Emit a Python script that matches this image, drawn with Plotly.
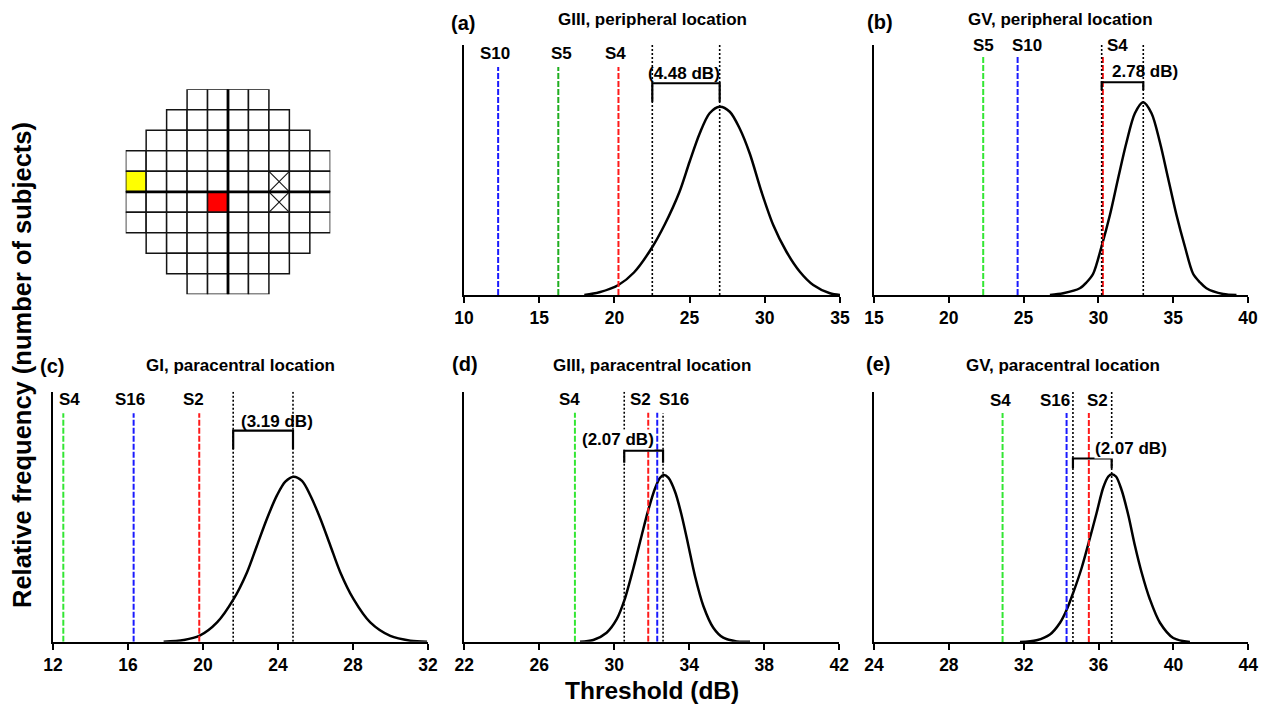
import plotly.graph_objects as go

W, H = 1262, 705
FONT = "Arial, Liberation Sans, sans-serif"

# ---------------------------------------------------------------- data
panel_letters = ["(a)", "(b)", "(c)", "(d)", "(e)"]
panel_titles = ["GIII, peripheral location", "GV, peripheral location",
                "GI, paracentral location", "GIII, paracentral location",
                "GV, paracentral location"]
x_ranges = [[10, 35], [15, 40], [12, 32], [22, 42], [24, 44]]
x_ticks = [[10, 15, 20, 25, 30, 35], [15, 20, 25, 30, 35, 40],
           [12, 16, 20, 24, 28, 32], [22, 26, 30, 34, 38, 42],
           [24, 28, 32, 36, 40, 44]]

# distribution curves (threshold in dB, relative frequency)
curve_a_x = [18.0, 19.0, 20.27, 21.3, 22.44, 23.33, 24.33, 25.0, 25.67, 26.33, 27.0, 27.67,
             28.33, 29.0, 29.78, 30.56, 31.44, 32.33, 33.22, 34.33, 35.0]
curve_a_y = [0, 0.011, 0.040, 0.090, 0.184, 0.280, 0.413, 0.533, 0.646, 0.727, 0.753, 0.733,
             0.666, 0.566, 0.413, 0.280, 0.173, 0.093, 0.040, 0.007, 0]
curve_b_x = [26.76, 27.65, 28.76, 29.2, 29.65, 30.21, 30.77, 31.32, 31.88, 32.44, 32.99,
             33.55, 34.11, 34.66, 35.22, 35.78, 36.33, 36.8, 37.22, 38.34, 39.23]
curve_b_y = [0, 0.007, 0.027, 0.050, 0.085, 0.194, 0.320, 0.467, 0.611, 0.727, 0.771,
             0.727, 0.611, 0.467, 0.320, 0.194, 0.085, 0.050, 0.027, 0.004, 0]
curve_c_x = [17.9, 18.97, 19.80, 20.75, 21.63, 22.35, 22.88, 23.41, 23.95, 24.39, 24.83,
             25.28, 25.72, 26.26, 26.79, 27.32, 28.03, 28.92, 29.99, 31.06, 31.95]
curve_c_y = [0, 0.007, 0.023, 0.077, 0.170, 0.278, 0.385, 0.492, 0.586, 0.640, 0.660,
             0.643, 0.586, 0.492, 0.385, 0.278, 0.170, 0.077, 0.023, 0.004, 0]
curve_d_x = [28.17, 28.88, 29.59, 30.13, 30.53, 31.01, 31.46, 31.81, 32.17, 32.44, 32.65,
             32.88, 33.24, 33.59, 33.95, 34.30, 34.75, 35.28, 35.81, 36.53, 37.24]
curve_d_y = [0, 0.007, 0.036, 0.090, 0.164, 0.292, 0.425, 0.526, 0.613, 0.656, 0.667,
             0.656, 0.600, 0.506, 0.385, 0.264, 0.143, 0.056, 0.016, 0.001, 0]
curve_e_x = [31.80, 32.69, 33.40, 33.94, 34.29, 34.61, 35.09, 35.48, 35.89, 36.25, 36.52,
             36.70, 36.93, 37.23, 37.59, 37.94, 38.30, 38.74, 39.28, 39.99, 40.88]
curve_e_y = [0, 0.007, 0.030, 0.077, 0.128, 0.190, 0.295, 0.400, 0.515, 0.618, 0.662,
             0.671, 0.662, 0.608, 0.507, 0.386, 0.278, 0.171, 0.077, 0.016, 0]
curves_x = [curve_a_x, curve_b_x, curve_c_x, curve_d_x, curve_e_x]
curves_y = [curve_a_y, curve_b_y, curve_c_y, curve_d_y, curve_e_y]

# individual subjects' thresholds (dB)
subj_a = ["S10", "S5", "S4"]
subj_a_x = [12.27, 16.27, 20.27]
subj_b = ["S5", "S10", "S4"]
subj_b_x = [22.3, 24.6, 30.3]
subj_c = ["S4", "S16", "S2"]
subj_c_x = [12.55, 16.3, 19.8]
subj_d = ["S4", "S2", "S16"]
subj_d_x = [27.9, 31.81, 32.29]
subj_e = ["S4", "S16", "S2"]
subj_e_x = [30.87, 34.29, 35.48]
subj_names = [subj_a, subj_b, subj_c, subj_d, subj_e]
subj_xs = [subj_a_x, subj_b_x, subj_c_x, subj_d_x, subj_e_x]

# mean threshold and distance to the lower limit (dB)
mean_thr = [27.0, 33.0, 24.8, 32.6, 36.7]
delta_db = [4.48, 2.78, 3.19, 2.07, 2.07]
delta_text = ["(4.48 dB)", "2.78 dB)", "(3.19 dB)", "(2.07 dB)", "(2.07 dB)"]

# visual field grid (30-2): first column and length of each row
grid_row_start = [3, 2, 1, 0, 0, 0, 0, 1, 2, 3]
grid_row_len = [4, 6, 8, 10, 10, 10, 10, 8, 6, 4]
grid_peripheral = (4, 0)   # (row, col) yellow
grid_paracentral = (5, 4)  # red
grid_blind_spot = [(4, 7), (5, 7)]

# ---------------------------------------------------------------- styles
BLUE, RED = "#1a1aff", "#ff1a1a"
GREEN_DARK, GREEN_LIGHT = "#1faf1f", "#33e633"
subj_colors = [[BLUE, GREEN_DARK, RED], [GREEN_LIGHT, BLUE, RED],
               [GREEN_LIGHT, BLUE, RED], [GREEN_LIGHT, RED, BLUE],
               [GREEN_LIGHT, BLUE, RED]]
label_xshift = [[-3, 3, -3], [0, 9, 15], [6, -4, -6], [-5, -8, 17], [-2, -12, 9]]
label_y = [0.967, 0.996, 0.967, 0.967, 0.967]
dash_top = [0.912, 0.953, 0.914, 0.916, 0.916]
dot_top_low = [1.0, 1.0, 1.0, 1.0, 1.0]
dot_top_mean = [1.0, 1.0, 1.0, 0.914, 1.0]
bracket_y = [0.847, 0.851, 0.844, 0.764, 0.734]
bracket_end = [0.773, 0.82, 0.77, 0.716, 0.695]
btext_xshift = [-2, 23, 14, -26, 39]
btext_y = [0.887, 0.893, 0.88, 0.807, 0.775]
btext_bg = [None, None, None, "white", "white"]

panel_x_px = [(464, 840), (874, 1248), (53, 428), (464.3, 839.3), (874, 1248.3)]
panel_y_px = [(45, 295), (45, 295), (391.7, 641.7), (391.7, 641.7), (392, 642)]
title_pos = [(652, 19), (1060, 19), (240, 365), (652, 365), (1063, 365)]
letter_pos = [(463, 23), (880, 22), (52, 366), (465, 364), (878, 364)]


def fx(p):
    return p / W


def fy(p):
    return 1 - p / H


def text_ann(**kw):
    base = dict(showarrow=False, xanchor="center", yanchor="middle")
    base.update(kw)
    return base


fig = go.Figure()
shapes = []
annotations = []
layout_axes = {}

for i in range(5):
    n = i + 1
    xa = "x" if n == 1 else f"x{n}"
    ya = "y" if n == 1 else f"y{n}"
    xkey = "xaxis" if n == 1 else f"xaxis{n}"
    ykey = "yaxis" if n == 1 else f"yaxis{n}"
    layout_axes[xkey] = dict(
        domain=[fx(panel_x_px[i][0]), fx(panel_x_px[i][1])], range=x_ranges[i],
        tickvals=x_ticks[i], showline=True, linewidth=2, linecolor="black",
        ticks="outside", ticklen=6, tickwidth=2, tickcolor="black",
        tickfont=dict(family=FONT, size=17.5, color="black", weight="bold"),
        showgrid=False, zeroline=False, anchor=ya, fixedrange=True, automargin=False)
    layout_axes[ykey] = dict(
        domain=[fy(panel_y_px[i][1]), fy(panel_y_px[i][0])], range=[0, 1],
        showline=True, linewidth=2, linecolor="black", showticklabels=False,
        ticks="", showgrid=False, zeroline=False, anchor=xa, fixedrange=True,
        automargin=False)

    fig.add_trace(go.Scatter(x=curves_x[i], y=curves_y[i], mode="lines",
                             line=dict(color="black", width=2.5, shape="spline", smoothing=0.85),
                             xaxis=xa, yaxis=ya, showlegend=False, hoverinfo="skip"))

    # subjects' dashed lines and labels
    for j, name in enumerate(subj_names[i]):
        sx = subj_xs[i][j]
        shapes.append(dict(type="line", xref=xa, yref=ya, x0=sx, x1=sx, y0=0, y1=dash_top[i],
                           line=dict(color=subj_colors[i][j], width=2, dash="6px,2px")))
        annotations.append(text_ann(x=sx, y=label_y[i], xref=xa, yref=ya,
                                    text=f"<b>{name}</b>", xshift=label_xshift[i][j],
                                    font=dict(family=FONT, size=17, color="black")))

    # dotted lines at the mean and the lower limit
    low = mean_thr[i] - delta_db[i]
    shapes.append(dict(type="line", xref=xa, yref=ya, x0=low, x1=low, y0=0, y1=dot_top_low[i],
                       line=dict(color="black", width=1.6, dash="2px,2px")))
    shapes.append(dict(type="line", xref=xa, yref=ya, x0=mean_thr[i], x1=mean_thr[i], y0=0,
                       y1=dot_top_mean[i], line=dict(color="black", width=1.6, dash="2px,2px")))
    # bracket
    shapes.append(dict(type="path", xref=xa, yref=ya,
                       path=(f"M {low} {bracket_end[i]} L {low} {bracket_y[i]} "
                             f"L {mean_thr[i]} {bracket_y[i]} L {mean_thr[i]} {bracket_end[i]}"),
                       line=dict(color="black", width=2.2)))
    ann = text_ann(x=(low + mean_thr[i]) / 2, y=btext_y[i], xref=xa, yref=ya,
                   text=f"<b>{delta_text[i]}</b>", xshift=btext_xshift[i],
                   font=dict(family=FONT, size=17, color="black"), borderpad=0)
    if btext_bg[i]:
        ann["bgcolor"] = btext_bg[i]
    annotations.append(ann)

    # titles and panel letters
    annotations.append(text_ann(x=fx(title_pos[i][0]), y=fy(title_pos[i][1]), xref="paper",
                                yref="paper", text=f"<b>{panel_titles[i]}</b>",
                                font=dict(family=FONT, size=17, color="black")))
    annotations.append(text_ann(x=fx(letter_pos[i][0]), y=fy(letter_pos[i][1]), xref="paper",
                                yref="paper", text=f"<b>{panel_letters[i]}</b>",
                                font=dict(family=FONT, size=20, color="black")))

# ---------------------------------------------------------------- visual field grid
layout_axes["xaxis6"] = dict(domain=[fx(125.7), fx(330.3)], range=[0, 10], visible=False,
                             anchor="y6", fixedrange=True, automargin=False)
layout_axes["yaxis6"] = dict(domain=[fy(294.3), fy(89.3)], range=[10, 0], visible=False,
                             anchor="x6", fixedrange=True, automargin=False)
fig.add_trace(go.Scatter(x=[0, 10], y=[0, 10], mode="markers", marker=dict(opacity=0),
                         xaxis="x6", yaxis="y6", showlegend=False, hoverinfo="skip"))
GRID_LINE = "#141414"
for r, (c0, ln) in enumerate(zip(grid_row_start, grid_row_len)):
    for c in range(c0, c0 + ln):
        fill = "white"
        if (r, c) == grid_peripheral:
            fill = "#ffff00"
        elif (r, c) == grid_paracentral:
            fill = "#ff0000"
        shapes.append(dict(type="rect", xref="x6", yref="y6", x0=c, x1=c + 1, y0=r, y1=r + 1,
                           fillcolor=fill, line=dict(color=GRID_LINE, width=1.5)))
for (r, c) in grid_blind_spot:
    shapes.append(dict(type="line", xref="x6", yref="y6", x0=c, x1=c + 1, y0=r, y1=r + 1,
                       line=dict(color=GRID_LINE, width=1.1)))
    shapes.append(dict(type="line", xref="x6", yref="y6", x0=c, x1=c + 1, y0=r + 1, y1=r,
                       line=dict(color=GRID_LINE, width=1.1)))
shapes.append(dict(type="line", xref="x6", yref="y6", x0=5, x1=5, y0=0, y1=10,
                   line=dict(color="black", width=2.8)))
shapes.append(dict(type="line", xref="x6", yref="y6", x0=0, x1=10, y0=5, y1=5,
                   line=dict(color="black", width=2.8)))

# ---------------------------------------------------------------- axis titles
annotations.append(text_ann(x=fx(652), y=fy(690), xref="paper", yref="paper",
                            text="<b>Threshold (dB)</b>",
                            font=dict(family=FONT, size=24.5, color="black")))
annotations.append(text_ann(x=fx(22), y=fy(365), xref="paper", yref="paper", textangle=-90,
                            text="<b>Relative frequency (number of subjects)</b>",
                            font=dict(family=FONT, size=25.5, color="black")))

fig.update_layout(width=W, height=H, margin=dict(l=0, r=0, t=0, b=0, autoexpand=False),
                  paper_bgcolor="white", plot_bgcolor="white",
                  shapes=shapes, annotations=annotations, showlegend=False,
                  **layout_axes)
fig.write_html("out.html", config={"displayModeBar": False})
